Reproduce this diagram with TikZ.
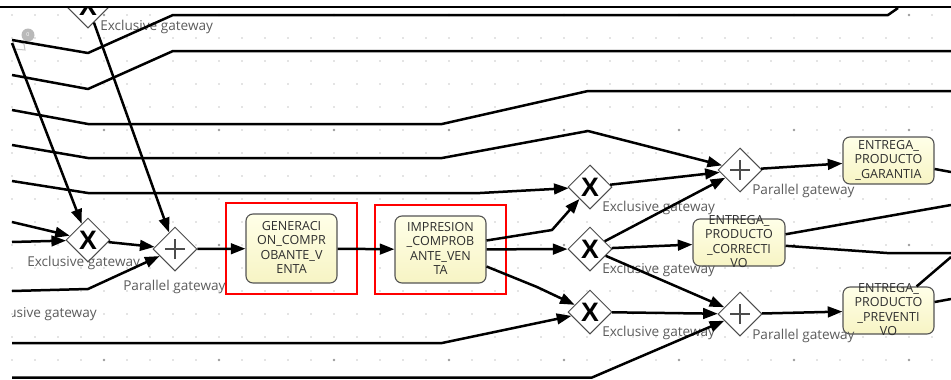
\documentclass[tikz,border=0pt]{standalone}
\usepackage{fontspec}
\setmainfont{Open Sans}
\newfontfamily\xfont{Liberation Sans}
\usepackage{tikz}
\usetikzlibrary{arrows.meta,shapes.geometric,fit}
\usepackage{xcolor}
\definecolor{tasktop}{RGB}{255,255,232}
\definecolor{taskbot}{RGB}{247,244,196}
\definecolor{gridgray}{RGB}{200,200,200}
\newlength{\px}\setlength{\px}{0.75pt}
\newcommand{\tasklines}[1]{\smash{\raisebox{-0.28em}{\begin{tabular}{@{}c@{}}#1\end{tabular}}}}

\begin{document}
\begin{tikzpicture}[
    x=\px,y=-\px,
    gwshape/.style={diamond,draw=gray!60!black,fill=white,line width=1\px,
                    minimum width=44\px,minimum height=44\px,inner sep=0pt},
    xgw/.style={gwshape,font=\xfont\bfseries\fontsize{20}{20}\selectfont},
    pgw/.style={gwshape,path picture={
        \draw[line width=2.6\px]
          ([xshift=-10\px]path picture bounding box.center) -- ([xshift=10\px]path picture bounding box.center)
          ([yshift=-10\px]path picture bounding box.center) -- ([yshift=10\px]path picture bounding box.center);}},
    task/.style={rectangle,rounded corners=7\px,draw=gray!65!black,line width=1.1\px,
                 top color=tasktop,bottom color=taskbot,minimum width=91\px,minimum height=47\px,
                 inner sep=0pt,text=black!82,font=\fontsize{9.4}{10.7}\selectfont},
    redframe/.style={draw=red,line width=2\px,inner xsep=19\px,inner ysep=10\px},
    gwlabel/.style={anchor=west,inner sep=0pt,text=gray!72!black,font=\fontsize{10.2}{12}\selectfont},
    seqline/.style={line width=2.5\px,line join=round},
    seqflow/.style={seqline,-{Triangle[length=11pt,width=8pt]}}
  ]
  \useasboundingbox (0,0) rectangle (951,379);

  % dotted canvas
  \foreach \gx in {0,...,40}
    \foreach \gy in {0,...,15}
      \fill[gridgray] (12+23*\gx,15+23*\gy) circle[radius=0.8\px];
  \foreach \gx in {4,9,...,39}
    \foreach \gy in {0,5,10,15}
      \fill[gray!75] (12+23*\gx,15+23*\gy) circle[radius=1.3\px];

  % free ends at the edges of the view
  \coordinate (inA) at (12,40);
  \coordinate (inB) at (12,75);
  \coordinate (inC) at (12,110);
  \coordinate (inD) at (12,145);
  \coordinate (inE) at (12,181);
  \coordinate (inF) at (12,222);
  \coordinate (inG) at (12,242);
  \coordinate (inH) at (12,291);
  \coordinate (inI) at (12,343);
  \coordinate (inJ) at (12,377.5);
  \coordinate (inK) at (12,43);
  \coordinate (outA) at (898,8);
  \coordinate (outB) at (951,51);
  \coordinate (outC) at (951,91);
  \coordinate (outD) at (951,172);
  \coordinate (outE) at (951,205);
  \coordinate (outF) at (951,253);
  \coordinate (outG) at (951,257);
  \coordinate (outH) at (951,299);

  % comment badge
  \draw[gray!45,line width=1\px] (13,40) -- (24,44) -- (25,50) -- (15,49) -- cycle;
  \node[circle,fill=gray!55,minimum size=13\px,inner sep=0pt,text=white,
        font=\fontsize{4}{4}\selectfont] (cmt) at (28,35) {0};

  % gateways and tasks
  \begin{scope}
    \clip (12,8.5) rectangle (951,379);
    \node[xgw] (xorTop) at (88,6) {X};
    \node[gwlabel,anchor=east] (lblOff) at (97,314) {Exclusive gateway};
  \end{scope}
  \node[xgw] (xorIn) at (88,240) {X};
  \node[pgw] (andIn) at (175,249) {};
  \node[task,minimum height=69\px] (genComp) at (291.5,248.5)
       {\tasklines{GENERACI\\ON\_COMPR\\OBANTE\_V\\ENTA}};
  \node[task,minimum height=67\px] (impComp) at (440.5,249.5)
       {\tasklines{IMPRESION\\\_COMPROB\\ANTE\_VEN\\TA}};
  \node[xgw] (xorUp) at (590,187) {X};
  \node[xgw] (xorMid) at (590,249) {X};
  \node[xgw] (xorLow) at (590,312) {X};
  \node[pgw] (andUp) at (740,170) {};
  \node[pgw] (andLow) at (740,314) {};
  \node[task] (entGar) at (888.5,160.5) {\tasklines{ENTREGA\_\\PRODUCTO\\\_GARANTIA}};
  \node[task,minimum width=92\px] (entCor) at (739,242.5)
       {\tasklines{ENTREGA\_\\PRODUCTO\\\_CORRECTI\\VO}};
  \node[task] (entPrev) at (888.5,310.5) {\tasklines{ENTREGA\_\\PRODUCTO\\\_PREVENTI\\VO}};

  \node[redframe,fit=(genComp)] (hlGen) {};
  \node[redframe,fit=(impComp)] (hlImp) {};

  % labels
  \node[gwlabel] (lblTop) at (100,27) {Exclusive gateway};
  \node[gwlabel] (lblXorIn) at (27,263) {Exclusive gateway};
  \node[gwlabel] (lblAndIn) at (123,287) {Parallel gateway};
  \node[gwlabel] (lblXorUp) at (602,208) {Exclusive gateway};
  \node[gwlabel] (lblXorMid) at (602,270) {Exclusive gateway};
  \node[gwlabel] (lblXorLow) at (602,333) {Exclusive gateway};
  \node[gwlabel] (lblAndUp) at (752,191) {Parallel gateway};
  \node[gwlabel] (lblAndLow) at (752,336) {Parallel gateway};

  % sequence flows
  \draw[seqline] (inA) -- (88,53) -- (173,15) -- (888,15) -- (outA);
  \draw[seqline] (inB) -- (88,89) -- (173,51) -- (outB);
  \draw[seqline] (inC) -- (88,124) -- (442,124) -- (588,91) -- (outC);
  \draw[seqflow] (inD) -- (88,158) -- (442,158) -- (588,131) -- (andUp);
  \draw[seqflow] (inE) -- (88,193) -- (480,193) -- (xorUp);
  \draw[seqflow] (inK) -- (xorIn);
  \draw[seqflow] (inF) -- (xorIn);
  \draw[seqflow] (inG) -- (xorIn);
  \draw[seqflow] (xorTop) -- (andIn);
  \draw[seqflow] (xorIn) -- (andIn);
  \draw[seqflow] (inH) -- (88,289) -- (andIn);
  \draw[seqflow] (andIn) -- (genComp);
  \draw[seqflow] (genComp) -- (impComp);
  \draw[seqflow] ([yshift=9\px]impComp.east) -- (552,230) -- (xorUp);
  \draw[seqflow] (impComp) -- (xorMid);
  \draw[seqflow] ([yshift=-17\px]impComp.east) -- (537,287) -- (xorLow);
  \draw[seqflow] (inI) -- (442,343) -- (xorLow);
  \draw[seqflow] (inJ) -- (592,377.5) -- (andLow);
  \draw[seqflow] (xorUp) -- (andUp);
  \draw[seqflow] (xorMid) -- (andUp);
  \draw[seqflow] (xorMid) -- (entCor);
  \draw[seqflow] (xorMid) -- (andLow);
  \draw[seqflow] (xorLow) -- (andLow);
  \draw[seqflow] (andUp) -- (entGar);
  \draw[seqflow] (andLow) -- (entPrev);
  \draw[seqline] (entGar) -- (outD);
  \draw[seqline] (entCor) -- (outE);
  \draw[seqline] (entCor) -- (887,253) -- (outF);
  \draw[seqline] (entPrev) -- (outG);
  \draw[seqline] (entPrev) -- (outH);

  % top edge of the view
  \draw[line width=2.6\px] (0,7) -- (951,7);
\end{tikzpicture}
\end{document}
